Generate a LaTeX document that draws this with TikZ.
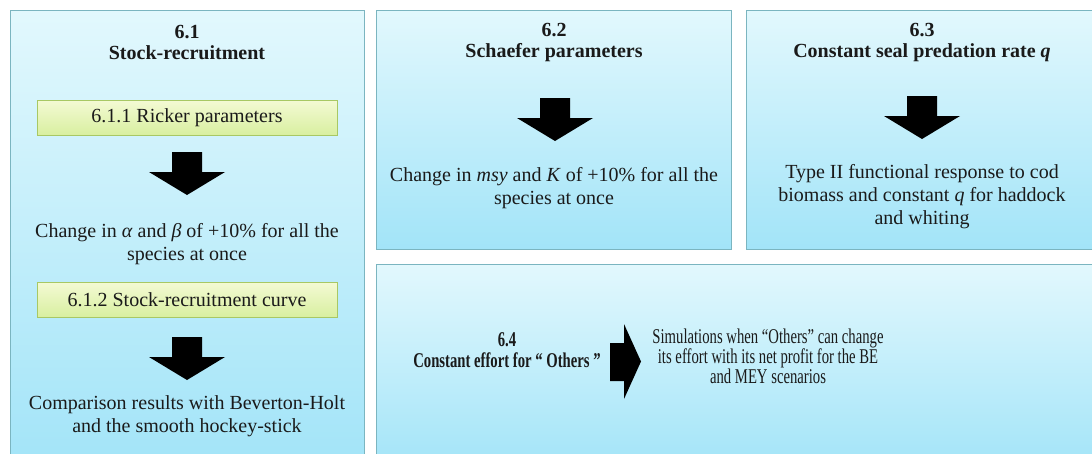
\documentclass[tikz,border=0pt]{standalone}
\usepackage{fontspec}
\setmainfont{Liberation Serif}
\newfontfamily\condfont{Liberation Serif}[FakeStretch=0.70]
\definecolor{boxtop}{HTML}{E2F8FD}
\definecolor{boxbot}{HTML}{A2E4F8}
\definecolor{boxline}{HTML}{7BB5C0}
\definecolor{gtop}{HTML}{F4FAD4}
\definecolor{gbot}{HTML}{D8EFA0}
\definecolor{gline}{HTML}{A8C864}
\definecolor{txt}{HTML}{1A1A1A}
\tikzset{
  panel/.style={draw=boxline, line width=1.2pt, top color=boxtop, bottom color=boxbot, inner sep=0pt, anchor=north west},
  subbox/.style={draw=gline, line width=1pt, top color=gtop, bottom color=gbot, minimum width=300pt, minimum height=35pt, inner sep=0pt, text=txt, font=\fontsize{20}{23}\selectfont},
  ttl/.style={align=center, text=txt, inner sep=0pt, font=\fontsize{20}{21}\selectfont\bfseries},
  body/.style={align=center, text=txt, inner sep=0pt, font=\fontsize{20}{23}\selectfont},
  condttl/.style={align=center, text=txt, inner sep=0pt, font=\fontsize{21}{20.5}\selectfont\condfont\bfseries},
  condbody/.style={align=center, text=txt, inner sep=0pt, font=\fontsize{21}{18.8}\selectfont\condfont},
  blockdown/.pic={\fill[black] (-15,0) -- (15,0) -- (15,20) -- (38,20) -- (0,43) -- (-38,20) -- (-15,20) -- cycle;}
}
\begin{document}
\begin{tikzpicture}[x=1pt,y=-1pt]
\useasboundingbox (0,0) rectangle (1092,453);
\clip (0,0) rectangle (1092,453);
\fill[white] (0,0) rectangle (1092,453);
% panels
\node[panel, minimum width=354pt, minimum height=460pt] (p61) at (10,10) {};
\node[panel, minimum width=355pt, minimum height=239pt] (p62) at (376,10) {};
\node[panel, minimum width=352pt, minimum height=239pt] (p63) at (746,10) {};
\node[panel, minimum width=722pt, minimum height=206pt] (p64) at (376,264) {};
% 6.1
\node[ttl] (t61) at (187,42.5) {6.1\\Stock-recruitment};
\node[subbox] (g611) at (187,117.5) {6.1.1 Ricker parameters};
\pic at (187,152) {blockdown};
\node[body] (b611) at (187,244) {Change in \textit{α} and \textit{β} of +10\% for all the\\species at once};
\node[subbox] (g612) at (187,299.5) {6.1.2 Stock-recruitment curve};
\pic at (187,337) {blockdown};
\node[body] (b612) at (187,416.5) {Comparison results with Beverton-Holt\\and the smooth hockey-stick};
% 6.2
\node[ttl] (t62) at (554,42.5) {6.2\\Schaefer parameters};
\pic at (555,98) {blockdown};
\node[body] (b62) at (554,188.5) {Change in \textit{msy} and \textit{K} of +10\% for all the\\species at once};
% 6.3
\node[ttl] (t63) at (922,42.5) {6.3\\Constant seal predation rate \textit{q}};
\pic at (922,96) {blockdown};
\node[body] (b63) at (922,197) {Type II functional response to cod\\biomass and constant \textit{q} for haddock\\and whiting};
% 6.4
\node[condttl] (t64) at (507,350) {6.4\\Constant effort for “ Others ”};
\fill[black] (610,343) -- (624,343) -- (624,324) -- (641,361.5) -- (624,399) -- (624,381) -- (610,381) -- cycle;
\node[condbody] (b64) at (768,356.5) {Simulations when “Others” can change\\its effort with its net profit for the BE\\and MEY scenarios};
\end{tikzpicture}
\end{document}
